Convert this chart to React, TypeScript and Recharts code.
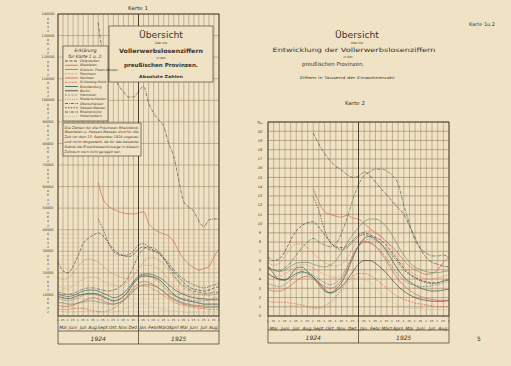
import { LineChart, Line, XAxis, YAxis, CartesianGrid, ReferenceLine } from 'recharts';

// x axis: half-month steps, 1. Mai 1924 – 1. Sept. 1925
const TICK_LABELS = ['1.', '15.', '1.', '15.', '1.', '15.', '1.', '15.', '1.', '15.', '1.', '15.', '1.', '15.', '1.', '15.', '1.', '15.', '1.', '15.', '1.', '15.', '1.', '15.', '1.', '15.', '1.', '15.', '1.', '15.', '1.', '15.', '1.'];
const MONTHS = ['Mai', 'Juni', 'Juli', 'Aug.', 'Sept.', 'Okt.', 'Nov.', 'Dez.', 'Jan.', 'Febr.', 'März', 'April', 'Mai', 'Juni', 'Juli', 'Aug.'];
const YEARS = ['1924', '1925'];

// Karte 1 – absolute Zahlen, in Tausend
const ABS_TICKS = [0, 2, 4, 6, 8, 10, 12, 14, 16, 18, 20, 22, 24, 26, 28, 30, 32, 34, 36, 38, 40, 42, 44, 46, 48, 50, 52, 54, 56, 58, 60, 62, 64, 66, 68, 70, 72, 74, 76, 78, 80, 82, 84, 86, 88, 90, 92, 94, 96, 98, 100, 102, 104, 106, 108, 110, 112, 114, 116, 118, 120, 122, 124, 126, 128, 130, 132, 134, 136, 138, 140];
const ABS_RHEIN = [null, null, null, null, null, null, null, null, 136, 120, 114, 111, 107, 104, 101.5, 101.5, 104, 106.5, 99, 94, 91, 88, 80, 74, 63, 53, 50.5, 48.5, 44, 41.5, 44.5, 45, 45];
const ABS_WESTF = [null, null, null, null, null, null, null, null, 62, 54, 51, 49.5, 48.5, 47.7, 47.4, 47.3, 47.8, 48.3, 43, 40.5, 39, 38, 37, 34.5, 30, 26.5, 24, 22.5, 21.3, 22, 23, 27.5, 31];
const ABS_HESSEN = [null, null, null, null, null, null, null, null, 45, 40, 34, 30, 28.5, 28, 28.5, 30, 33, 33.5, 32, 30.5, 29.5, 27, 24.5, 21.5, 19, 17, 15.5, 14.5, 13.5, 13, 13.5, 14.5, 15];
const ABS_OSTPR = [25, 21, 20, 23, 28, 33.5, 36, 37.5, 38.5, 37, 34, 31, 29, 28, 27.5, 28.5, 31, 32, 31, 30, 29, 26.5, 23.5, 20.5, 18, 15.5, 13.5, 12.5, 12, 11.5, 12, 13, 13.5];
const ABS_NSCHL = [18, 17, 17.5, 20, 23, 25.5, 26.5, 26, 25, 23, 21, 19.5, 18.5, 17.5, 17, 18.5, 22, 25, 27, 27, 26, 24, 21, 18, 15.5, 13, 11.5, 10.5, 10, 9.5, 9.5, 10, 10.5];
const ABS_OSCHL = [11, 10.5, 10, 10.5, 11.5, 12.5, 13, 13, 12.5, 12, 11.5, 12, 13, 15, 18, 23, 28, 31, 32, 31.5, 30, 27, 23, 19, 16, 14, 12.5, 11.5, 11, 10.5, 10.5, 11, 11];
const ABS_POMM = [14, 13, 13, 14, 15.5, 17, 18, 18, 17.5, 16, 15, 14.5, 14, 14.5, 16, 19, 22, 23.5, 23.5, 23, 22, 20, 17, 14, 12, 10.5, 9.5, 9, 8.5, 8, 8, 8.5, 9];
const ABS_BERLIN = [9, 8.5, 8, 8.5, 9.5, 10, 10.5, 10.5, 10, 9, 8, 7, 7.5, 9, 11.5, 15, 17.5, 18.5, 18.5, 18, 17, 15, 12.5, 10, 8.5, 7.5, 7, 6.5, 6, 5.5, 5.5, 5.5, 5.5];
const ABS_BRAND = [10, 9.5, 9, 9.5, 10.5, 11.5, 12, 12, 11.5, 10.5, 9.5, 8.5, 9, 10.5, 13, 16, 18.5, 19.5, 19.5, 19, 18, 16.5, 14.5, 12.5, 11, 10, 9, 8.5, 8, 8, 7.5, 7.5, 7.5];
const ABS_SACHSEN = [5, 4.5, 4.5, 5, 6, 7, 8, 8.5, 8, 7, 6, 5.5, 6, 7.5, 10, 13, 15, 16, 15.5, 14.5, 13, 11, 9, 7.5, 6.5, 5.5, 5, 4.5, 4.5, 4, 4, 4, 4];
const ABS_SCHLH = [3, 3, 3, 3.5, 3.5, 3.5, 3, 2.5, 2, 2, 2.5, 3.5, 5, 7, 9.5, 12, 13.5, 14, 13.5, 12.5, 11, 9.5, 8, 6.5, 5.5, 5, 4.5, 4, 3.5, 3.5, 3, 3, 3];
const ABS_HOHENZ = [2, 2, 1.8, 1.8, 2, 2.2, 2.2, 2, 1.8, 1.6, 1.6, 1.8, 2.2, 3, 4, 5, 5.5, 5.5, 5, 4.2, 3.5, 3, 2.6, 2.2, 2, 1.8, 1.6, 1.5, 1.4, 1.4, 1.4, 1.4, 1.4];
const ABS_HANN = [8, 7.5, 7, 7.5, 8.5, 9.5, 10, 10, 9.5, 8.5, 7.5, 7, 7.5, 9, 12, 15.5, 18, 19, 18.5, 17.5, 16, 13.5, 11, 9.5, 8.5, 8, 7.5, 7, 7, 7, 7.5, 8, 8.5];
const ABS_GRENZM = [6.5, 6, 5.5, 5.5, 6, 6.5, 7, 7, 6.5, 6, 5.5, 5.5, 6, 7, 9, 11.5, 13.5, 14.5, 14.5, 14, 13, 11.5, 9.5, 8, 7, 6, 5.5, 5, 4.8, 4.6, 4.5, 4.5, 4.5];

// Karte 2 – Ziffern in Tausend der Einwohnerzahl
const RATE_TICKS = [0, 1, 2, 3, 4, 5, 6, 7, 8, 9, 10, 11, 12, 13, 14, 15, 16, 17, 18, 19, 20];
const RATE_RHEIN = [null, null, null, null, null, null, null, null, 19.8, 18.6, 17.6, 16.8, 16.2, 15.8, 15.3, 15.0, 15.1, 15.6, 15.2, 14.5, 13.8, 13.1, 12.4, 11.7, 11.0, 9.8, 8.5, 7.2, 6.3, 5.8, 5.6, 5.4, 5.3];
const RATE_WESTF = [null, null, null, null, null, null, null, null, 13.8, 12.3, 11.3, 11.0, 10.8, 10.7, 10.9, 10.6, 10.5, 10.0, 9.5, 9.0, 8.6, 8.0, 7.5, 6.8, 6.0, 5.4, 5.0, 4.7, 4.5, 4.6, 5.0, 5.8, 6.4];
const RATE_HESSEN = [null, null, null, null, null, null, null, null, 12.9, 11.4, 9.3, 8.0, 7.4, 7.2, 7.4, 8.0, 8.6, 8.8, 8.6, 8.2, 7.8, 7.2, 6.5, 5.8, 5.0, 4.5, 4.1, 3.8, 3.6, 3.5, 3.6, 3.8, 4.0];
const RATE_OSTPR = [6.4, 6.0, 6.2, 7.0, 8.2, 9.2, 9.8, 10.1, 10.2, 9.6, 8.8, 8.0, 7.5, 7.4, 7.6, 8.2, 8.8, 9.0, 8.8, 8.5, 8.2, 7.6, 6.8, 6.0, 5.2, 4.6, 4.2, 3.9, 3.7, 3.6, 3.6, 3.8, 3.9];
const RATE_NSCHL = [5.8, 5.5, 5.7, 6.5, 7.3, 7.8, 7.8, 7.4, 6.8, 6.2, 5.8, 5.5, 5.4, 5.6, 6.3, 7.3, 8.4, 9.1, 9.2, 9.0, 8.6, 8.0, 7.2, 6.3, 5.5, 4.9, 4.5, 4.2, 4.0, 4.0, 4.1, 4.3, 4.5];
const RATE_OSCHL = [5.2, 5.0, 4.9, 5.2, 5.8, 6.6, 7.4, 8.0, 8.4, 8.0, 7.7, 7.5, 7.8, 9.0, 10.6, 12.6, 14.2, 15.2, 15.6, 15.9, 15.9, 15.7, 15.2, 14.3, 12.0, 10.0, 8.2, 7.3, 6.8, 6.5, 6.5, 6.6, 6.3];
const RATE_POMM = [4.6, 4.3, 4.3, 4.6, 5.0, 5.4, 5.6, 5.5, 5.2, 4.8, 4.5, 4.3, 4.2, 4.5, 5.3, 6.5, 7.6, 8.2, 8.3, 8.0, 7.5, 6.8, 5.9, 5.0, 4.3, 3.8, 3.4, 3.1, 2.9, 2.8, 2.8, 2.9, 3.0];
const RATE_BERLIN = [4.6, 4.2, 4.0, 3.9, 4.2, 4.6, 4.8, 4.6, 4.2, 3.6, 2.9, 2.5, 2.7, 3.2, 3.9, 4.8, 5.6, 6.0, 6.0, 5.7, 5.2, 4.6, 3.9, 3.2, 2.7, 2.3, 2.0, 1.8, 1.7, 1.6, 1.6, 1.6, 1.7];
const RATE_BRAND = [5.4, 4.6, 3.9, 3.9, 4.4, 5.2, 5.3, 4.8, 4.2, 3.4, 2.7, 2.5, 2.9, 3.6, 4.8, 6.3, 7.6, 8.4, 8.6, 8.4, 7.8, 7.0, 6.0, 5.0, 4.2, 3.7, 3.3, 3.0, 2.8, 2.7, 2.7, 2.8, 2.9];
const RATE_SACHSEN = [2.9, 2.7, 2.7, 2.9, 3.3, 3.8, 4.2, 4.3, 4.0, 3.6, 3.2, 3.0, 3.2, 3.9, 5.0, 6.4, 7.5, 8.0, 7.9, 7.5, 6.8, 5.9, 4.9, 4.0, 3.3, 2.8, 2.4, 2.1, 1.9, 1.8, 1.7, 1.7, 1.7];
const RATE_SCHLH = [1.6, 1.5, 1.5, 1.5, 1.4, 1.3, 1.2, 1.0, 0.9, 0.9, 1.1, 1.5, 2.1, 2.9, 3.7, 4.3, 4.6, 4.6, 4.4, 4.0, 3.5, 3.0, 2.5, 2.1, 1.8, 1.6, 1.4, 1.3, 1.2, 1.1, 1.0, 1.0, 1.0];
const RATE_HOHENZ = [1.1, 1.0, 1.0, 1.0, 1.1, 1.1, 1.0, 0.9, 0.8, 0.8, 0.9, 1.2, 1.8, 2.6, 3.4, 4.0, 4.2, 4.0, 3.6, 3.0, 2.4, 1.9, 1.5, 1.2, 1.0, 0.9, 0.8, 0.8, 0.7, 0.7, 0.7, 0.7, 0.7];
const RATE_HANN = [3.5, 3.3, 3.2, 3.4, 3.9, 4.4, 4.7, 4.7, 4.4, 4.0, 3.6, 3.4, 3.6, 4.2, 5.3, 6.6, 7.6, 8.1, 8.0, 7.6, 7.0, 6.2, 5.3, 4.5, 3.9, 3.5, 3.3, 3.2, 3.2, 3.3, 3.4, 3.6, 3.8];
const RATE_GRENZM = [5.3, 5.0, 4.8, 5.0, 5.4, 5.7, 5.8, 5.8, 5.6, 5.4, 5.3, 5.5, 6.0, 6.9, 7.9, 8.8, 9.6, 10.2, 10.5, 10.5, 10.2, 9.6, 8.7, 7.6, 6.6, 5.8, 5.3, 5.0, 4.8, 4.7, 4.7, 4.8, 4.9];

const NOTE_LINES = [
  'Die Zahlen für die Provinzen Rheinland,',
  'Westfalen u. Hessen-Nassau sind für die',
  'Zeit vor dem 15. September 1924 ungenau',
  'und nicht dargestellt, da für das besetzte',
  'Gebiet die Erwerbslosenfürsorge in diesem',
  'Zeitraum noch nicht geregelt war.',
];

const BG = '#f0e2c5';
const INK = '#3d3428';
const GRID = '#947f5e';
const GRID_LIGHT = '#cdb995';
const FONT = '"DejaVu Sans", sans-serif';

const DARK = '#363a36';
const RED = '#d05a49';
const PINK = '#df8e7c';
const GREEN = '#5f8d62';
const DGREEN = '#2f5d4e';
const TEAL = '#4b7c82';
const LGREEN = '#9db88a';

const SERIES = [
  { key: 'rhein', name: 'Rheinprovinz', abs: ABS_RHEIN, rate: RATE_RHEIN, color: DARK, dash: '3 1 0.8 1' },
  { key: 'westf', name: 'Westfalen', abs: ABS_WESTF, rate: RATE_WESTF, color: RED, dash: undefined },
  { key: 'hessen', name: 'Hessen-Nassau', abs: ABS_HESSEN, rate: RATE_HESSEN, color: DARK, dash: '1.6 1.2' },
  { key: 'ostpr', name: 'Ostpreußen', abs: ABS_OSTPR, rate: RATE_OSTPR, color: DARK, dash: '3 1.5' },
  { key: 'nschl', name: 'Niederschlesien', abs: ABS_NSCHL, rate: RATE_NSCHL, color: RED, dash: '0.8 1' },
  { key: 'oschl', name: 'Oberschlesien', abs: ABS_OSCHL, rate: RATE_OSCHL, color: DGREEN, dash: '3 1 0.8 1' },
  { key: 'pomm', name: 'Pommern', abs: ABS_POMM, rate: RATE_POMM, color: PINK, dash: '2 1.2' },
  { key: 'berlin', name: 'Berlin', abs: ABS_BERLIN, rate: RATE_BERLIN, color: DARK, dash: undefined },
  { key: 'brand', name: 'Brandenburg', abs: ABS_BRAND, rate: RATE_BRAND, color: DGREEN, dash: undefined },
  { key: 'sachsen', name: 'Sachsen', abs: ABS_SACHSEN, rate: RATE_SACHSEN, color: RED, dash: undefined },
  { key: 'schlh', name: 'Schleswig-Holst.', abs: ABS_SCHLH, rate: RATE_SCHLH, color: RED, dash: '2 1.2' },
  { key: 'hohenz', name: 'Hohenzollern', abs: ABS_HOHENZ, rate: RATE_HOHENZ, color: LGREEN, dash: '0.8 1' },
  { key: 'hann', name: 'Hannover', abs: ABS_HANN, rate: RATE_HANN, color: TEAL, dash: '2 1.2' },
  { key: 'grenzm', name: 'Grenzm. Posen-Westpr.', abs: ABS_GRENZM, rate: RATE_GRENZM, color: GREEN, dash: undefined },
];

const LEGEND_ORDER = ['ostpr', 'westf', 'grenzm', 'pomm', 'sachsen', 'schlh', 'brand', 'berlin', 'hann', 'nschl', 'oschl', 'hessen', 'rhein', 'hohenz'];

const xIndex = TICK_LABELS.map((_, i) => i);
const absRows = xIndex.map((i) => {
  const row: Record<string, number | null> = { i };
  SERIES.forEach((s) => (row[s.key] = s.abs[i]));
  return row;
});
const rateRows = xIndex.map((i) => {
  const row: Record<string, number | null> = { i };
  SERIES.forEach((s) => (row[s.key] = s.rate[i]));
  return row;
});

function xTick(labelY: number, monthY: number) {
  return (p: any) => {
    const i = p.payload.value;
    return (
      <g>
        <text x={p.x} y={labelY} fontSize={2.8} fill={INK} textAnchor="middle" fontFamily={FONT}>
          {TICK_LABELS[i]}
        </text>
        {i % 2 === 1 && (
          <text x={p.x} y={monthY} fontSize={4.4} fill={INK} textAnchor="middle" fontFamily={FONT} fontStyle="italic">
            {MONTHS[(i - 1) / 2]}
          </text>
        )}
      </g>
    );
  };
}

function absTick(p: any) {
  const v = p.payload.value;
  if (v === 0) return <g />;
  const major = v % 10 === 0;
  return (
    <text x={48} y={p.y + 1.2} fontSize={major ? 3.4 : 3} fill={INK} textAnchor="middle" fontFamily={FONT}>
      {major ? String(v * 1000) : String(v % 10)}
    </text>
  );
}

function rateTick(p: any) {
  return (
    <text x={20} y={p.y + 1.3} fontSize={3.6} fill={INK} textAnchor="middle" fontFamily={FONT} fontStyle="italic">
      {p.payload.value}
    </text>
  );
}

function Panel(props: {
  left: number; top: number; width: number; height: number;
  margin: any; yWidth: number; yDomain: number[]; yTicks: number[]; tick: any;
  rows: any[]; major: number[]; minor: number[]; labelY: number; monthY: number;
}) {
  return (
    <div style={{ position: 'absolute', left: props.left, top: props.top }}>
      <LineChart width={props.width} height={props.height} data={props.rows} margin={props.margin}>
        <CartesianGrid horizontalValues={props.minor} verticalValues={[]} vertical={false} stroke={GRID_LIGHT} strokeWidth={0.4} />
        <CartesianGrid horizontalValues={props.major} verticalValues={xIndex} stroke={GRID} strokeWidth={0.5} />
        <XAxis
          dataKey="i"
          type="number"
          domain={[0, 32]}
          ticks={xIndex}
          interval={0}
          tickLine={false}
          axisLine={false}
          height={30}
          tick={xTick(props.labelY, props.monthY)}
        />
        <YAxis
          type="number"
          domain={props.yDomain}
          ticks={props.yTicks}
          interval={0}
          width={props.yWidth}
          tickLine={false}
          axisLine={false}
          tick={props.tick}
        />
        <ReferenceLine x={16} stroke={INK} strokeWidth={0.9} />
        {SERIES.map((s) => (
          <Line
            key={s.key}
            dataKey={s.key}
            type="monotone"
            stroke={s.color}
            strokeWidth={0.7}
            strokeOpacity={0.9}
            strokeDasharray={s.dash}
            dot={false}
            isAnimationActive={false}
          />
        ))}
      </LineChart>
    </div>
  );
}

function YearBox({ x1, x2, y1, y2, yb }: { x1: number; x2: number; y1: number; y2: number; yb: number }) {
  const mid = (x1 + x2) / 2;
  return (
    <g stroke={INK} strokeWidth={0.7} fill="none">
      <line x1={x1} y1={y1} x2={x1} y2={y2} />
      <line x1={x2} y1={y1} x2={x2} y2={y2} />
      <line x1={mid} y1={y1} x2={mid} y2={y2} />
      <line x1={x1} y1={yb} x2={x2} y2={yb} />
      <line x1={x1} y1={y2} x2={x2} y2={y2} />
      <text x={(x1 + mid) / 2} y={y2 - 3.5} fontSize={6} fontStyle="italic" textAnchor="middle" fill={INK} stroke="none" fontFamily={FONT}>{YEARS[0]}</text>
      <text x={(mid + x2) / 2} y={y2 - 3.5} fontSize={6} fontStyle="italic" textAnchor="middle" fill={INK} stroke="none" fontFamily={FONT}>{YEARS[1]}</text>
    </g>
  );
}

export default function App() {
  const byKey: Record<string, (typeof SERIES)[number]> = {};
  SERIES.forEach((s) => (byKey[s.key] = s));
  return (
    <div style={{ position: 'fixed', left: 0, top: 0, width: 511, height: 366, background: BG, overflow: 'hidden', fontFamily: FONT }}>
      <Panel
        left={0} top={0} width={240} height={350}
        margin={{ top: 14, right: 21, left: 18, bottom: 4 }}
        yWidth={40} yDomain={[0, 140]} yTicks={ABS_TICKS} tick={absTick}
        rows={absRows}
        major={[0, 10, 20, 30, 40, 50, 60, 70, 80, 90, 100, 110, 120, 130, 140]}
        minor={[2, 4, 6, 8, 12, 14, 16, 18, 22, 24, 26, 28, 32, 34, 36, 38]}
        labelY={320.5} monthY={328.5}
      />
      <Panel
        left={240} top={110} width={220} height={240}
        margin={{ top: 12, right: 11, left: 8, bottom: 4 }}
        yWidth={20} yDomain={[0, 21]} yTicks={RATE_TICKS} tick={rateTick}
        rows={rateRows}
        major={[0, 1, 2, 3, 4, 5, 6, 7, 8, 9, 10, 11, 12, 13, 14, 15, 16, 17, 18, 19, 20, 21]}
        minor={[]}
        labelY={212} monthY={219.5}
      />
      <svg width={511} height={366} style={{ position: 'absolute', left: 0, top: 0, pointerEvents: 'none' }} fontFamily={FONT}>
        {/* frames */}
        <rect x={58} y={14} width={161} height={302} fill="none" stroke={INK} strokeWidth={0.9} />
        <rect x={268} y={122} width={181} height={194} fill="none" stroke={INK} strokeWidth={0.9} />
        <YearBox x1={58} x2={219} y1={316} y2={344} yb={331} />
        <YearBox x1={268} x2={449} y1={316} y2={343} yb={330} />
        <text x={260} y={124} fontSize={4} fill={INK} textAnchor="middle">‰</text>

        {/* Karte 1 titles */}
        <text x={138} y={10} fontSize={5.5} fill={INK} textAnchor="middle">Karte 1</text>
        <rect x={109} y={26} width={104} height={56} fill={BG} stroke={INK} strokeWidth={0.6} />
        <text x={161} y={38} fontSize={9} fill={INK} textAnchor="middle" textLength={44} lengthAdjust="spacingAndGlyphs">Übersicht</text>
        <text x={161} y={44} fontSize={3} fill={INK} textAnchor="middle">über die</text>
        <text x={161} y={52.5} fontSize={6} fontWeight="bold" fill={INK} textAnchor="middle" textLength={84} lengthAdjust="spacingAndGlyphs">Vollerwerbslosenziffern</text>
        <text x={161} y={59} fontSize={3} fill={INK} textAnchor="middle">in den</text>
        <text x={161} y={67} fontSize={5.6} fontWeight="bold" fill={INK} textAnchor="middle" textLength={74} lengthAdjust="spacingAndGlyphs">preußischen Provinzen.</text>
        <text x={161} y={77.5} fontSize={4} fontWeight="bold" fill={INK} textAnchor="middle" textLength={44} lengthAdjust="spacingAndGlyphs">Absolute Zahlen</text>

        {/* legend */}
        <rect x={63} y={46} width={45} height={75} fill={BG} stroke={INK} strokeWidth={0.6} />
        <text x={85.5} y={52} fontSize={4.6} fontStyle="italic" fill={INK} textAnchor="middle">Erklärung</text>
        <text x={85.5} y={57.5} fontSize={4.4} fontStyle="italic" fill={INK} textAnchor="middle">für Karte 1 u. 2.</text>
        {LEGEND_ORDER.map((k, n) => {
          const s = byKey[k];
          const y = 62 + n * 4.25;
          return (
            <g key={k}>
              <line x1={65} x2={78} y1={y - 1} y2={y - 1} stroke={s.color} strokeWidth={0.8} strokeDasharray={s.dash} />
              <text x={80} y={y} fontSize={3.3} fontStyle="italic" fill={INK}>{s.name}</text>
            </g>
          );
        })}

        {/* note */}
        <rect x={63} y={123} width={78} height={33} fill={BG} stroke={INK} strokeWidth={0.6} />
        {NOTE_LINES.map((t, n) => (
          <text key={n} x={64.5} y={128.5 + n * 4.9} fontSize={3.3} fontStyle="italic" fill={INK} textLength={t.length > 34 ? 74 : undefined} lengthAdjust="spacingAndGlyphs">{t}</text>
        ))}

        {/* right page titles */}
        <text x={482} y={26} fontSize={5} fill={INK} textAnchor="middle">Karte 1u.2</text>
        <text x={357} y={38} fontSize={9} fill={INK} textAnchor="middle" textLength={44} lengthAdjust="spacingAndGlyphs">Übersicht</text>
        <text x={357} y={43.5} fontSize={3} fill={INK} textAnchor="middle">über die</text>
        <text x={354} y={52} fontSize={6} fill={INK} textAnchor="middle" textLength={163} lengthAdjust="spacingAndGlyphs">Entwicklung der Vollerwerbslosenziffern</text>
        <text x={348} y={58} fontSize={3} fill={INK} textAnchor="middle">in den</text>
        <text x={333} y={66} fontSize={5.6} fill={INK} textAnchor="middle" textLength={62} lengthAdjust="spacingAndGlyphs">preußischen Provinzen.</text>
        <text x={347} y={79} fontSize={3.6} fill={INK} textAnchor="middle" textLength={95} lengthAdjust="spacingAndGlyphs">Ziffern in Tausend der Einwohnerzahl</text>
        <text x={355} y={105} fontSize={5.5} fill={INK} textAnchor="middle">Karte 2</text>
        <text x={479} y={341} fontSize={6} fill={INK} textAnchor="middle">5</text>
      </svg>
    </div>
  );
}
